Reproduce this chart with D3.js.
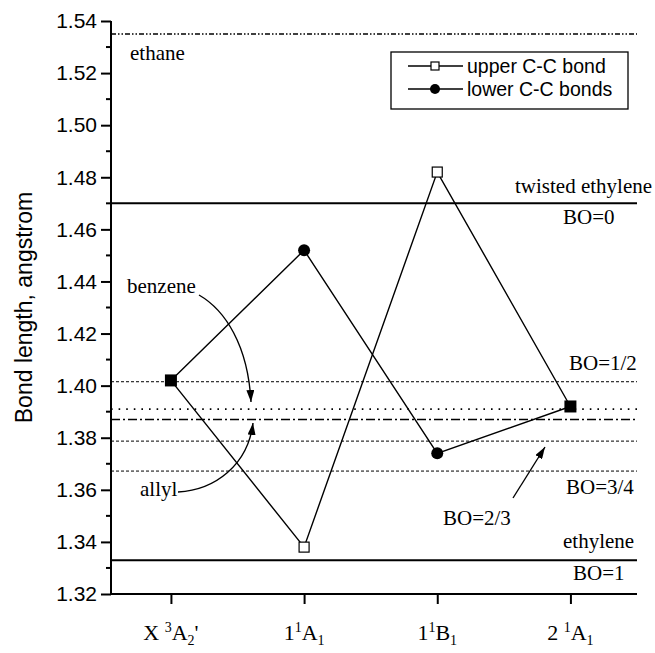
<!DOCTYPE html>
<html>
<head>
<meta charset="utf-8">
<script src="https://cdn.jsdelivr.net/npm/d3@7"></script>
<style>
  body { margin: 0; background: #fff; }
  svg { display: block; }
  .tick text { font-family: Arial, "Liberation Sans", sans-serif; }
  .serif { font-family: "Times New Roman", "Liberation Serif", serif; }
</style>
</head>
<body>
<svg width="655" height="653"></svg>
<script>
// states along the x axis ("^" = superscript next char, "_" = subscript)
var categories = ["X ^3A_2'", "1^1A_1", "1^1B_1", "2 ^1A_1"];
var upperBond = [1.402, 1.338, 1.482, 1.392];
var lowerBond = [1.402, 1.452, 1.374, 1.392];

var yTicks = [1.32, 1.34, 1.36, 1.38, 1.40, 1.42, 1.44, 1.46, 1.48, 1.50, 1.52, 1.54];

// reference bond lengths
var refNames  = ["ethane", "twisted ethylene", "BO=1/2", "benzene", "allyl", "BO=2/3", "BO=3/4", "ethylene"];
var refValues = [1.535, 1.470, 1.4015, 1.391, 1.387, 1.3787, 1.3672, 1.333];
var refKinds  = ["dashdotdot", "solid", "dash", "dot", "dashdot", "dash", "dash", "solid"];

var svg = d3.select("svg"),
    margin = {top: 21, right: 18, bottom: 59, left: 111},
    width = +svg.attr("width") - margin.left - margin.right,
    height = +svg.attr("height") - margin.top - margin.bottom;

var x = d3.scaleLinear().domain([0.55, 4.5]).range([0, width]);
var y = d3.scaleLinear().domain([1.32, 1.54]).range([height, 0]);

var dashes = {solid: null, dash: "3,2", dot: "1.6,6", dashdot: "9,3,2,3", dashdotdot: "5,2,1.5,2,1.5,2"};
var widths = {solid: 2, dash: 1, dot: 1.6, dashdot: 1.4, dashdotdot: 1.4};

var defs = svg.append("defs");
defs.append("marker")
    .attr("id", "arrow")
    .attr("markerUnits", "userSpaceOnUse")
    .attr("viewBox", "0 0 12 8")
    .attr("refX", 12).attr("refY", 4)
    .attr("markerWidth", 12).attr("markerHeight", 8)
    .attr("orient", "auto")
  .append("path")
    .attr("d", "M0,0L12,4L0,8Z")
    .attr("fill", "#000");

var g = svg.append("g")
    .attr("transform", "translate(" + margin.left + "," + margin.top + ")");

// reference lines
g.selectAll(".ref")
    .data(refValues)
  .enter().append("line")
    .attr("class", "ref")
    .attr("x1", 0)
    .attr("x2", width)
    .attr("y1", function(d) { return y(d); })
    .attr("y2", function(d) { return y(d); })
    .attr("stroke", "#000")
    .attr("stroke-width", function(d, i) { return widths[refKinds[i]]; })
    .attr("stroke-dasharray", function(d, i) { return dashes[refKinds[i]]; });

// axes
var yAxis = g.append("g")
    .attr("class", "y axis")
    .call(d3.axisLeft(y).tickValues(yTicks).tickFormat(d3.format(".2f")).tickSize(10).tickPadding(4));
yAxis.selectAll(".tick text").attr("font-size", "21px").attr("fill", "#000");

var minor = d3.range(1.33, 1.54, 0.02);
yAxis.selectAll(".minor")
    .data(minor)
  .enter().append("line")
    .attr("class", "minor")
    .attr("x1", -5).attr("x2", 0)
    .attr("y1", function(d) { return y(d); })
    .attr("y2", function(d) { return y(d); })
    .attr("stroke", "#000")
    .attr("stroke-width", 2);

var xAxis = g.append("g")
    .attr("class", "x axis")
    .attr("transform", "translate(0," + height + ")")
    .call(d3.axisBottom(x).tickValues([1, 2, 3, 4]).tickSize(10).tickFormat(""));

g.selectAll(".axis path").attr("stroke-width", 2).attr("d", null);
yAxis.select("path").attr("d", "M0," + height + "V0");
xAxis.select("path").attr("d", "M0,0H" + width);
g.selectAll(".axis line").attr("stroke-width", 2);

// category labels with super/subscripts
function parseLabel(s) {
  var parts = [], i = 0;
  while (i < s.length) {
    if (s[i] === "^" || s[i] === "_") { parts.push({t: s[i + 1], s: s[i] === "^" ? 1 : -1}); i += 2; }
    else { parts.push({t: s[i], s: 0}); i += 1; }
  }
  return parts;
}

categories.forEach(function(c, i) {
  var t = g.append("text")
      .attr("class", "serif")
      .attr("x", x(i + 1))
      .attr("y", height + 46)
      .attr("text-anchor", "middle")
      .attr("font-size", "22px")
      .style("white-space", "pre");
  var cur = 0;
  parseLabel(c).forEach(function(p) {
    var target = p.s === 1 ? -8 : p.s === -1 ? 5 : 0;
    t.append("tspan")
        .attr("dy", target - cur)
        .attr("font-size", p.s ? "14px" : "22px")
        .text(p.t);
    cur = target;
  });
});

// y label
svg.append("text")
    .attr("transform", "translate(32," + (margin.top + y(1.43)) + ") rotate(-90)")
    .attr("text-anchor", "middle")
    .attr("font-family", "Arial, 'Liberation Sans', sans-serif")
    .attr("font-size", "23px")
    .text("Bond length, angstrom");

// data lines
var line = d3.line()
    .x(function(d, i) { return x(i + 1); })
    .y(function(d) { return y(d); });

[upperBond, lowerBond].forEach(function(s) {
  g.append("path")
      .datum(s)
      .attr("d", line)
      .attr("fill", "none")
      .attr("stroke", "#000")
      .attr("stroke-width", 1.4);
});

// markers: shared points drawn as filled squares
g.selectAll(".up")
    .data(upperBond)
  .enter().filter(function(d, i) { return d !== lowerBond[i]; }).append("rect")
    .attr("x", function(d, i) { return x(upperBond.indexOf(d) + 1) - 5; })
    .attr("y", function(d) { return y(d) - 5; })
    .attr("width", 10).attr("height", 10)
    .attr("fill", "#fff").attr("stroke", "#000").attr("stroke-width", 1.2);

g.selectAll(".low")
    .data(lowerBond)
  .enter().filter(function(d, i) { return d !== upperBond[i]; }).append("circle")
    .attr("cx", function(d) { return x(lowerBond.indexOf(d) + 1); })
    .attr("cy", function(d) { return y(d); })
    .attr("r", 6);

g.selectAll(".both")
    .data(upperBond)
  .enter().filter(function(d, i) { return d === lowerBond[i]; }).append("rect")
    .attr("x", function(d) { return x(upperBond.indexOf(d) + 1) - 6; })
    .attr("y", function(d) { return y(d) - 6; })
    .attr("width", 12).attr("height", 12);

// legend
var lg = svg.append("g");
lg.append("rect")
    .attr("x", 391).attr("y", 52).attr("width", 237).attr("height", 57)
    .attr("fill", "#fff").attr("stroke", "#000").attr("stroke-width", 1.3);
var legendNames = ["upper C-C bond", "lower C-C bonds"];
legendNames.forEach(function(n, i) {
  var ly = 66 + i * 23;
  lg.append("line").attr("x1", 408).attr("x2", 463).attr("y1", ly).attr("y2", ly)
      .attr("stroke", "#000").attr("stroke-width", 1.4);
  if (i === 0) {
    lg.append("rect").attr("x", 431).attr("y", ly - 4).attr("width", 8).attr("height", 8)
        .attr("fill", "#fff").attr("stroke", "#000").attr("stroke-width", 1.2);
  } else {
    lg.append("circle").attr("cx", 435).attr("cy", ly).attr("r", 5);
  }
  lg.append("text")
      .attr("x", 467).attr("y", ly + 7)
      .attr("font-family", "Arial, 'Liberation Sans', sans-serif")
      .attr("font-size", "19.5px")
      .text(n);
});

// annotations
var notes = [
  {t: refNames[0], x: 130, y: 60},
  {t: refNames[1], x: 515, y: 193},
  {t: "BO=0", x: 563, y: 224},
  {t: refNames[2], x: 569, y: 370},
  {t: refNames[6], x: 566, y: 494},
  {t: refNames[5], x: 443, y: 525},
  {t: refNames[7], x: 563, y: 548},
  {t: "BO=1", x: 573, y: 580},
  {t: refNames[3], x: 127, y: 293},
  {t: refNames[4], x: 140, y: 496}
];
svg.selectAll(".note")
    .data(notes)
  .enter().append("text")
    .attr("class", "serif note")
    .attr("x", function(d) { return d.x; })
    .attr("y", function(d) { return d.y; })
    .attr("font-size", "21px")
    .text(function(d) { return d.t; });

var arrows = [
  "M199,295C225,310 248,345 251,402",
  "M178,492C215,490 248,465 253,423",
  "M513,498L545,447"
];
svg.selectAll(".arrow")
    .data(arrows)
  .enter().append("path")
    .attr("d", function(d) { return d; })
    .attr("fill", "none")
    .attr("stroke", "#000")
    .attr("stroke-width", 1.4)
    .attr("marker-end", "url(#arrow)");
</script>
</body>
</html>
